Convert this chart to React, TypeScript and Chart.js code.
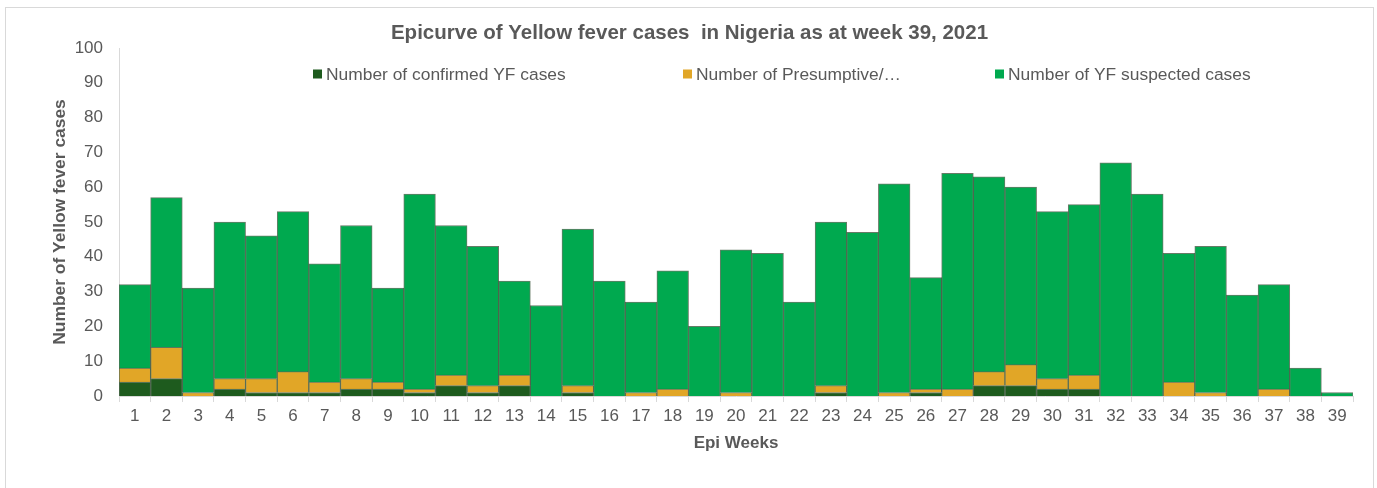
import React, { useEffect, useRef } from "react";
import { Chart, registerables } from "chart.js";

Chart.register(...registerables);

const weeks: string[] = [
  "1","2","3","4","5","6","7","8","9","10","11","12","13","14","15","16","17","18","19","20",
  "21","22","23","24","25","26","27","28","29","30","31","32","33","34","35","36","37","38","39",
];

const confirmed: number[] = [4,5,0,2,1,1,1,2,2,1,3,1,3,0,1,0,0,0,0,0,0,0,1,0,0,1,0,3,3,2,2,0,0,0,0,0,0,0,0];
const presumptive: number[] = [4,9,1,3,4,6,3,3,2,1,3,2,3,0,2,0,1,2,0,1,0,0,2,0,1,1,2,4,6,3,4,0,0,4,1,0,2,0,0];
const suspected: number[] = [24,43,30,45,41,46,34,44,27,56,43,40,27,26,45,33,26,34,20,41,41,27,47,47,60,32,62,56,51,48,49,67,58,37,42,29,30,8,1];

const seriesLabels: string[] = [
  "Number of confirmed YF cases",
  "Number of Presumptive/…",
  "Number of YF suspected cases",
];
const seriesColors: string[] = ["#1E5B1E", "#E1A627", "#00A94F"];

const titleText = "Epicurve of Yellow fever cases  in Nigeria as at week 39, 2021";
const yTitle = "Number of Yellow fever cases";
const xTitle = "Epi Weeks";

const FONT = "'Liberation Sans', Arial, sans-serif";
const TEXT = "#595959";

const legendPlugin = {
  id: "excelLegend",
  afterDraw(chart: any, _args: any, opts: any) {
    const ctx = chart.ctx;
    ctx.save();
    ctx.font = `17.4px ${FONT}`;
    ctx.textBaseline = "middle";
    ctx.textAlign = "left";
    const xs: number[] = opts.xs;
    chart.data.datasets.forEach((ds: any, i: number) => {
      const x = xs[i];
      const y = opts.y;
      ctx.fillStyle = ds.backgroundColor;
      ctx.fillRect(x, y - 4.5, 9, 9);
      ctx.fillStyle = TEXT;
      ctx.fillText(ds.label, x + 13, y + 1);
    });
    ctx.restore();
  },
};

export default function App() {
  const ref = useRef<HTMLCanvasElement | null>(null);

  useEffect(() => {
    if (!ref.current) return;
    const chart = new Chart(ref.current, {
      type: "bar",
      data: {
        labels: weeks,
        datasets: [confirmed, presumptive, suspected].map((d, i) => ({
          label: seriesLabels[i],
          data: d,
          backgroundColor: seriesColors[i],
          borderColor: "rgba(0,35,0,0.6)",
          borderWidth: 1,
          categoryPercentage: 1,
          barPercentage: 1,
        })),
      },
      options: {
        animation: false,
        responsive: true,
        maintainAspectRatio: false,
        layout: { padding: { left: 20, right: 20, top: 0, bottom: 32 } },
        plugins: {
          legend: { display: false },
          tooltip: { enabled: false },
          title: {
            display: true,
            text: titleText,
            color: TEXT,
            font: { family: FONT, size: 20.5, weight: "bold" },
            padding: { top: 12.7, bottom: 2.7 },
          },
          excelLegend: { xs: [307, 677, 989], y: 66 },
        } as any,
        scales: {
          x: {
            stacked: true,
            offset: true,
            grid: {
              display: true,
              drawOnChartArea: false,
              drawTicks: true,
              tickLength: 6,
              color: "#d9d9d9",
              offset: true,
            },
            border: { display: true, color: "#d9d9d9" },
            ticks: {
              color: TEXT,
              font: { family: FONT, size: 17 },
              padding: 4,
              maxRotation: 0,
              autoSkip: false,
            },
            title: {
              display: true,
              text: xTitle,
              color: TEXT,
              font: { family: FONT, size: 17, weight: "bold" },
              padding: { top: 0, bottom: 2.8 },
            },
            afterFit(scale: any) {
              scale.height = 60;
            },
          },
          y: {
            stacked: true,
            min: 0,
            max: 100,
            grid: { display: false, drawTicks: false },
            border: { display: true, color: "#d9d9d9" },
            ticks: {
              stepSize: 10,
              color: TEXT,
              font: { family: FONT, size: 17 },
              padding: 16,
            },
            title: {
              display: true,
              text: yTitle,
              color: TEXT,
              font: { family: FONT, size: 17.4, weight: "bold" },
              padding: { top: 23.6, bottom: 0 },
            },
            afterFit(scale: any) {
              scale.width = 93;
            },
          },
        },
      },
      plugins: [legendPlugin],
    });
    return () => chart.destroy();
  }, []);

  return (
    <div
      style={{
        position: "absolute",
        left: 5,
        top: 7,
        width: 1369,
        height: 500,
        border: "1px solid #d9d9d9",
        boxSizing: "border-box",
        background: "#fff",
      }}
    >
      <div style={{ position: "relative", width: 1367, height: 480 }}>
        <canvas ref={ref} />
      </div>
    </div>
  );
}
